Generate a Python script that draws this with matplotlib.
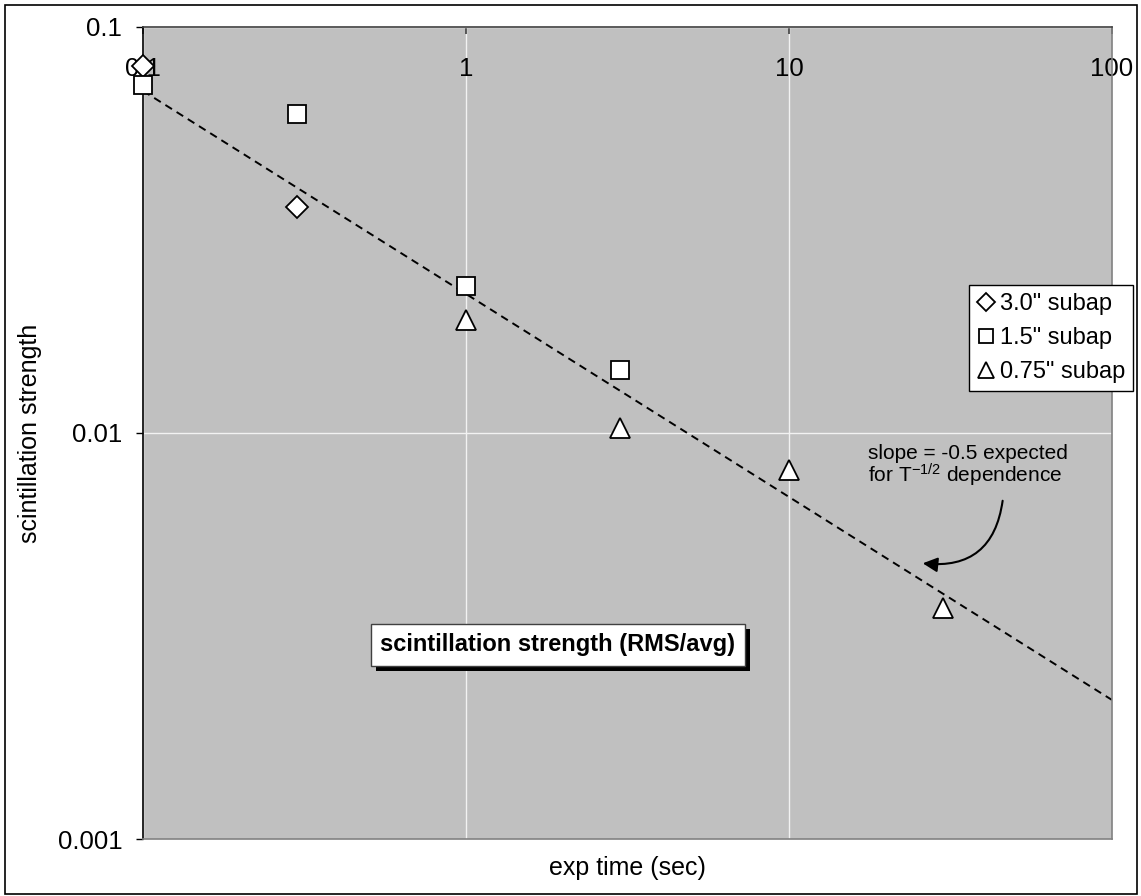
import matplotlib
matplotlib.use('Agg')
import matplotlib.pyplot as plt
from matplotlib.patches import Rectangle

plt.rcParams['font.family'] = ['Liberation Sans', 'DejaVu Sans']
plt.rcParams['mathtext.fontset'] = 'custom'
plt.rcParams['mathtext.rm'] = 'Liberation Sans'
plt.rcParams['mathtext.it'] = 'Liberation Sans:italic'

# data
x_30 = [0.1, 0.3]
y_30 = [0.080, 0.036]
x_15 = [0.1, 0.3, 1, 3]
y_15 = [0.072, 0.061, 0.023, 0.0143]
x_075 = [1, 3, 10, 30]
y_075 = [0.019, 0.0103, 0.0081, 0.0037]
labels = ['3.0" subap', '1.5" subap', '0.75" subap']
# reference slope -0.5 line (end points)
fit_x = [0.1, 100]
fit_y = [0.0696, 0.0022]

W, H = 1141, 896
fig = plt.figure(figsize=(W / 100, H / 100), dpi=100)
ax = fig.add_axes([143 / W, 1 - 839 / H, (1112 - 143) / W, (839 - 27) / H])
ax.set_facecolor('#c0c0c0')
ax.set_xscale('log')
ax.set_yscale('log')
ax.set_xlim(0.1, 100)
ax.set_ylim(0.001, 0.1)

ax.grid(True, which='major', color='#f2f2f2', lw=1)
ax.set_axisbelow(True)
ax.minorticks_off()

ax.plot(fit_x, fit_y, color='black', lw=1.4, linestyle=(0, (4, 2.8)), zorder=2)

mk = dict(mfc='white', mec='black', mew=1.3, ls='none', clip_on=False, zorder=3)
ax.plot(x_30, y_30, marker='D', ms=11, label=labels[0], **mk)
ax.plot(x_15, y_15, marker='s', ms=13, label=labels[1], **mk)
ax.plot(x_075, y_075, marker='^', ms=14, label=labels[2], **mk)

ax.set_xticks([0.1, 1, 10, 100], ['0.1', '1', '10', '100'])
ax.set_yticks([0.1, 0.01, 0.001], ['0.1', '0.01', '0.001'])
ax.tick_params(axis='x', top=True, bottom=False, labeltop=True, labelbottom=False,
               direction='in', length=5, width=1.2, color='#404040',
               pad=-39, labelsize=18.5)
ax.tick_params(axis='y', direction='out', length=5, width=1, color='black',
               pad=10, labelsize=18.5)

ax.spines['left'].set_color('black')
ax.spines['top'].set_color('#404040')
ax.spines['bottom'].set_color('#808080')
ax.spines['right'].set_color('#808080')
for s in ax.spines.values():
    s.set_linewidth(1.2)

leg = ax.legend(loc='upper left', bbox_to_anchor=(969 / W, 1 - 285 / H),
                bbox_transform=fig.transFigure, borderaxespad=0, fancybox=False,
                edgecolor='black', framealpha=1, fontsize=17, handlelength=0.7,
                handletextpad=0.25, borderpad=0.35, labelspacing=0.5, markerscale=0.8)
leg.get_frame().set_linewidth(1)

fig.text(30 / W, 1 - 433 / H, 'scintillation strength', rotation=90,
         ha='center', va='center', fontsize=18)
fig.text(627 / W, 1 - 868 / H, 'exp time (sec)', ha='center', va='center', fontsize=18)

# annotation for the slope line
fig.text(868 / W, 1 - 444 / H, 'slope = -0.5 expected\nfor T$^{\\mathrm{-1/2}}$ dependence',
         ha='left', va='top', fontsize=15, linespacing=0.95)
ax.annotate('', xy=(920 / W, 1 - 563 / H), xytext=(1003 / W, 1 - 498 / H),
            xycoords='figure fraction', textcoords='figure fraction',
            arrowprops=dict(arrowstyle='-|>', color='black', lw=1.5,
                            mutation_scale=22, connectionstyle='arc3,rad=-0.5'))

# boxed title with drop shadow
title = fig.text(558 / W, 1 - 645 / H, 'scintillation strength (RMS/avg)',
                 ha='center', va='center', fontsize=17, fontweight='bold',
                 color='black', zorder=5,
                 bbox=dict(boxstyle='square,pad=0.4', fc='white', ec='#404040', lw=1))
fig.canvas.draw()
bb = title.get_bbox_patch().get_window_extent()
fig.patches.append(Rectangle(((bb.x0 + 5) / W, (bb.y0 - 5) / H), bb.width / W, bb.height / H,
                             transform=fig.transFigure, fc='black', ec='none', zorder=4))

# outer chart border
fig.patches.append(Rectangle((5 / W, 2 / H), (1137 - 5) / W, (893 - 4) / H,
                             transform=fig.transFigure, fill=False,
                             ec='black', lw=1.2))

fig.savefig('out.png', dpi=100)
